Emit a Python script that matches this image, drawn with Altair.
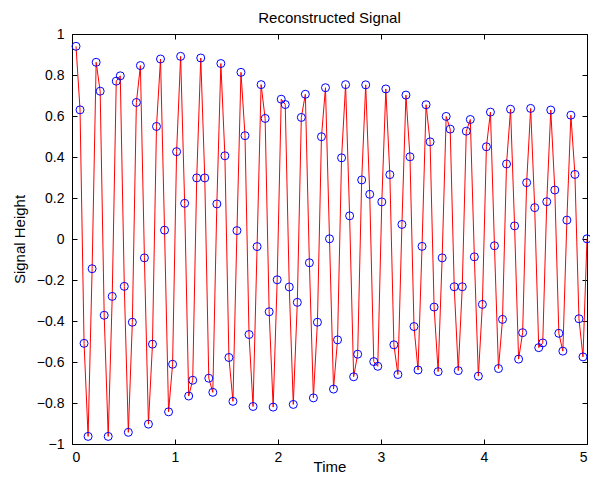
import altair as alt
import pandas as pd

# sample times: 128 evenly spaced samples ending at t = 5
n_samples = 128
time = [round(5 * (i + 1) / n_samples, 5) for i in range(n_samples)]

height = [
    0.940, 0.630, -0.509, -0.963, -0.145, 0.862, 0.721, -0.372, -0.963, -0.280,
    0.770, 0.796, -0.231, -0.943, -0.406, 0.666, 0.846, -0.092, -0.903, -0.513,
    0.549, 0.878, 0.043, -0.843, -0.611, 0.426, 0.891, 0.174, -0.766, -0.689,
    0.298, 0.883, 0.298, -0.679, -0.748, 0.171, 0.856, 0.406, -0.578, -0.792,
    0.041, 0.813, 0.504, -0.466, -0.817, -0.037, 0.753, 0.588, -0.355, -0.820,
    -0.199, 0.682, 0.656, -0.234, -0.807, -0.309, 0.593, 0.706, -0.116, -0.775,
    -0.406, 0.499, 0.738, 0.001, -0.732, -0.492, 0.396, 0.753, 0.113, -0.672,
    -0.562, 0.288, 0.752, 0.218, -0.598, -0.621, 0.181, 0.732, 0.314, -0.516,
    -0.661, 0.071, 0.702, 0.401, -0.427, -0.639, -0.036, 0.655, 0.474, -0.332,
    -0.647, -0.092, 0.598, 0.536, -0.233, -0.642, -0.233, 0.526, 0.583, -0.087,
    -0.669, -0.319, 0.450, 0.619, -0.033, -0.632, -0.392, 0.366, 0.633, 0.064,
    -0.586, -0.457, 0.275, 0.637, 0.153, -0.530, -0.507, 0.182, 0.629, 0.239,
    -0.460, -0.547, 0.092, 0.604, 0.315, -0.389, -0.575, 0.001,
]

x_ticks = [0, 1, 2, 3, 4, 5]
y_ticks = [-1, -0.8, -0.6, -0.4, -0.2, 0, 0.2, 0.4, 0.6, 0.8, 1]

df = pd.DataFrame({"time": time, "height": height})

FONT = "Liberation Sans"
TICK = 5

x_scale = alt.Scale(domain=[0, 5], nice=False, zero=False)
y_scale = alt.Scale(domain=[-1, 1], nice=False, zero=False)

common = dict(domain=False, grid=False, tickSize=TICK, offset=-TICK,
              tickColor="black", tickWidth=1, labelColor="black",
              labelFont=FONT, labelFontSize=14, titleFont=FONT,
              titleFontSize=15, titleFontWeight="normal", titleColor="black")

x_bottom = alt.Axis(orient="bottom", values=x_ticks, format="d", title="Time",
                    labelPadding=TICK + 1, titleBaseline="alphabetic", titleY=32,
                    **common)
y_left = alt.Axis(orient="left", values=y_ticks, format=".1~f", title="Signal Height",
                  labelPadding=TICK + 3, titlePadding=9, **common)
x_top = alt.Axis(orient="top", values=x_ticks, labels=False, title=None, **common)
y_right = alt.Axis(orient="right", values=y_ticks, labels=False, title=None, **common)

base = alt.Chart(df)

line = base.mark_line(color="#ff0000", strokeWidth=1).encode(
    x=alt.X("time:Q", scale=x_scale, axis=x_bottom),
    y=alt.Y("height:Q", scale=y_scale, axis=y_left),
)

points = base.mark_point(shape="circle", filled=False, color="#0000ff",
                         size=64, strokeWidth=1, opacity=1).encode(
    x=alt.X("time:Q", scale=x_scale, axis=x_top),
    y=alt.Y("height:Q", scale=y_scale, axis=y_right),
)

chart = alt.layer(line, points).resolve_axis(
    x="independent", y="independent"
).properties(
    width=515,
    height=410,
    autosize=alt.AutoSizeParams(type="none"),
    padding={"left": 64, "top": 26, "right": 3, "bottom": 30},
    title=alt.TitleParams("Reconstructed Signal", font=FONT, fontSize=15,
                          fontWeight="normal", color="black", offset=1),
).configure_view(stroke="black", strokeWidth=1)

chart.save("out.html", embed_options={"renderer": "svg", "actions": False})
